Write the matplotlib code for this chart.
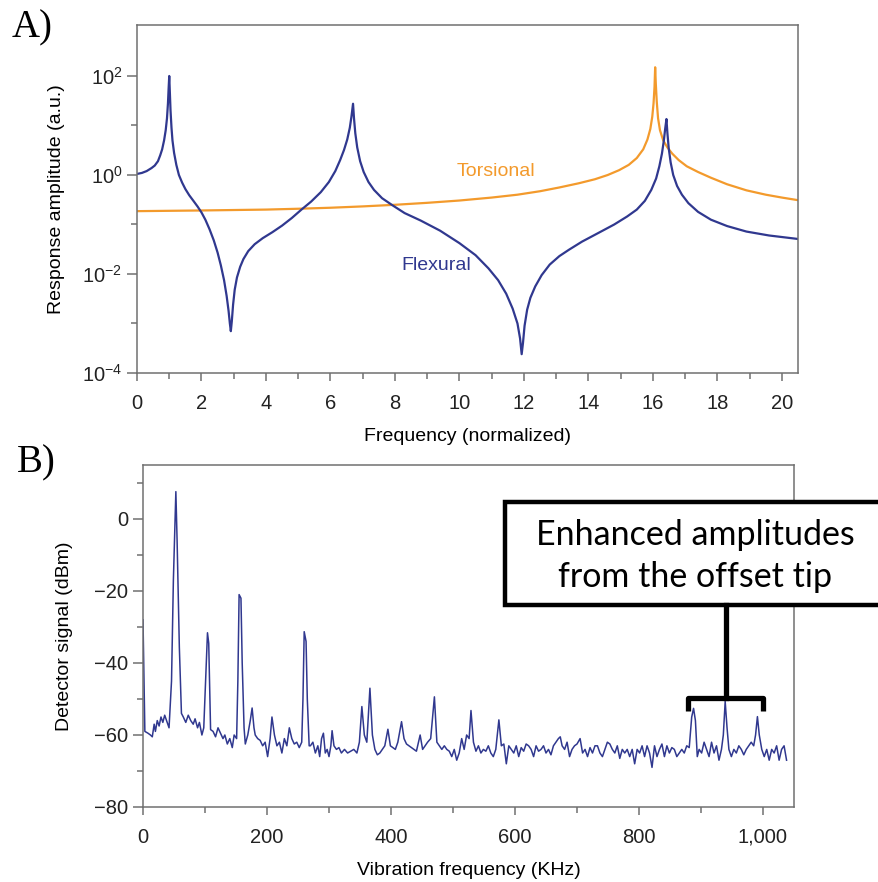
import numpy as np
import matplotlib
matplotlib.use("Agg")
import matplotlib.pyplot as plt
from matplotlib.patches import Rectangle
from matplotlib.lines import Line2D
from matplotlib.ticker import FixedLocator, NullFormatter, FuncFormatter

FAM = 'Liberation Sans'
plt.rcParams['font.family'] = [FAM, 'DejaVu Sans']
plt.rcParams['mathtext.fontset'] = 'custom'
plt.rcParams['mathtext.rm'] = FAM
plt.rcParams['mathtext.it'] = FAM
TICK_FS = 14.5
LAB_FS = 14

BLUE = '#30388f'
ORANGE = '#f39a2c'
GREY = '#707070'

# ---- panel A: response amplitude vs normalized frequency ----
flex_f = [0.0, 0.15, 0.3, 0.45, 0.55, 0.65, 0.72, 0.78, 0.84, 0.89, 0.93, 0.96,
          0.98, 1.0, 1.02, 1.04, 1.07, 1.1, 1.15, 1.22, 1.3, 1.4, 1.5, 1.62,
          1.75, 1.88, 2.0, 2.12, 2.25, 2.38, 2.5, 2.6, 2.7, 2.78, 2.84, 2.88,
          2.91, 2.94, 2.98, 3.03, 3.1, 3.2, 3.3, 3.45, 3.65, 3.9, 4.2, 4.5,
          4.8, 5.1, 5.4, 5.7, 5.95, 6.15, 6.3, 6.42, 6.52, 6.6, 6.65, 6.7,
          6.73, 6.77, 6.83, 6.92, 7.03, 7.18, 7.35, 7.6, 7.9, 8.3, 8.8, 9.4,
          10.0, 10.5, 10.9, 11.2, 11.45, 11.65, 11.8, 11.88, 11.93, 11.97,
          12.02, 12.1, 12.2, 12.35, 12.55, 12.8, 13.1, 13.4, 13.8, 14.3, 14.8,
          15.2, 15.5, 15.75, 15.95, 16.1, 16.2, 16.28, 16.34, 16.38, 16.42,
          16.45, 16.49, 16.55, 16.63, 16.75, 16.9, 17.1, 17.4, 17.8, 18.3,
          18.9, 19.6, 20.5]
flex_a = [1.05, 1.1, 1.2, 1.38, 1.55, 1.9, 2.5, 3.3, 5.0, 8.0, 14, 28,
          55, 100, 45, 20, 9, 5, 2.8, 1.6, 1.0, 0.7, 0.52, 0.39,
          0.30, 0.23, 0.175, 0.125, 0.08, 0.048, 0.027, 0.015, 0.0075, 0.0036,
          0.0018, 0.001, 0.0007, 0.0011, 0.0024, 0.0048, 0.0085, 0.014, 0.02,
          0.029, 0.04, 0.053, 0.07, 0.095, 0.135, 0.2, 0.29, 0.45, 0.72, 1.2,
          2.0, 3.2, 5.2, 9, 15, 27.5, 14, 7, 3.6, 1.9, 1.15, 0.72, 0.5, 0.34,
          0.25, 0.17, 0.12, 0.075, 0.042, 0.024, 0.013, 0.0075, 0.004, 0.002,
          0.001, 0.0005, 0.00024, 0.0004, 0.0009, 0.0019, 0.0033, 0.0056,
          0.0095, 0.0155, 0.023, 0.031, 0.045, 0.067, 0.1, 0.145, 0.2, 0.3,
          0.5, 0.85, 1.5, 2.7, 5, 8.5, 13.5, 7, 3.5, 1.8, 1.0, 0.6, 0.4, 0.27,
          0.18, 0.125, 0.093, 0.072, 0.06, 0.051]

tors_f = [0, 1, 2, 3, 4, 5, 6, 7, 8, 9, 10, 11, 11.8, 12.5, 13.1, 13.7, 14.2,
          14.6, 14.95, 15.25, 15.5, 15.7, 15.83, 15.92, 15.98, 16.02, 16.05,
          16.07, 16.09, 16.12, 16.16, 16.22, 16.32, 16.45, 16.6, 16.8, 17.05,
          17.4, 17.8, 18.3, 18.9, 19.5, 20.0, 20.5]
tors_a = [0.186, 0.189, 0.192, 0.196, 0.2, 0.208, 0.218, 0.232, 0.25, 0.274,
          0.305, 0.35, 0.4, 0.47, 0.56, 0.68, 0.82, 1.0, 1.25, 1.6, 2.2, 3.3,
          5.2, 8.5, 15, 28, 60, 150, 70, 30, 14, 8, 5, 3.6, 2.7, 2.0, 1.5,
          1.15, 0.88, 0.65, 0.49, 0.4, 0.35, 0.31]

# ---- panel B: detector signal spectrum ----
spec_f = [0, 3, 8, 12, 15, 18, 20, 23, 26, 29, 32, 35, 38, 40, 42, 46, 49, 53,
          55, 58.6, 62, 65, 69, 73, 77, 81, 84, 88, 91, 95, 98, 101, 104, 106,
          109, 113, 117, 121, 125, 129, 132, 136, 140, 144, 147, 151, 153, 155,
          158, 160, 163, 165, 169, 173, 176, 179, 181, 185, 189, 193, 197, 201,
          205, 208, 212, 216, 220, 224, 228, 232, 236, 240, 244, 248, 252, 256,
          258, 260, 263, 265, 268, 270, 274, 278, 282, 285, 288, 291, 294, 297,
          300, 303, 305, 308, 312, 316, 320, 325, 330, 335, 340, 345, 349, 353,
          357, 361, 366, 370, 374, 378, 382, 386, 390, 395, 399, 403, 407, 411,
          417, 421, 425, 429, 433, 437, 441, 447, 451, 455, 459, 464, 470, 474,
          478, 482, 486, 490, 494, 498, 502, 506, 510, 514, 518, 522, 526, 529,
          533, 537, 541, 545, 549, 553, 557, 561, 565, 569, 574, 578, 582, 586,
          590, 594, 598, 602, 606, 610, 614, 618, 622, 626, 630, 634, 638, 642,
          646, 650, 654, 658, 662, 666, 670, 673, 676, 680, 684, 688, 692, 696,
          700, 705, 709, 713, 717, 721, 725, 729, 733, 737, 741, 745, 749, 753,
          757, 761, 765, 769, 773, 777, 781, 785, 789, 793, 797, 801, 805, 809,
          813, 817, 821, 825, 829, 833, 837, 841, 845, 849, 853, 857, 861, 865,
          869, 873, 877, 881, 885, 888, 891, 894, 897, 901, 905, 909, 913, 917,
          921, 925, 929, 933, 936, 939, 942, 945, 949, 953, 957, 961, 965, 969,
          973, 977, 981, 985, 988, 991, 994, 998, 1002, 1006, 1010, 1014, 1018,
          1022, 1026, 1030, 1034, 1038]
spec_db = [-28, -59, -59.5, -60, -60.5, -57, -59, -56, -57.5, -55, -56.5, -54.5,
           -56, -57, -58, -45, -17, 7.6, -6, -35.5, -54, -55, -56.5, -54.5,
           -56, -57, -55.5, -58, -56.5, -60, -58, -45, -31.6, -34.5, -58.5,
           -59, -60.5, -58, -59.5, -61, -60, -62.5, -61, -63.5, -60, -61, -45,
           -21, -22, -40, -58, -62.5, -60, -56, -52.5, -58, -60, -61, -61.5,
           -63, -62, -66, -61, -55, -60, -63, -62, -65, -61, -63, -58, -61,
           -62.5, -62, -63.5, -62, -50, -31.3, -34, -50, -63, -63, -62, -65,
           -63, -66, -61, -59.5, -65, -64, -66, -63, -58.8, -63, -64, -63.5,
           -65, -64, -65, -64.5, -64, -65, -62, -52.1, -60, -62, -47, -60, -64,
           -65.5, -65, -64, -63, -58.4, -63, -63.5, -64, -62, -56.3, -61,
           -62.5, -63, -63.5, -64, -64.5, -60, -64, -63, -62, -61, -49.4, -62,
           -63, -64, -63, -64, -64.5, -66, -64, -67, -65, -61, -64, -60, -61,
           -53.2, -62, -64.5, -63, -65, -64, -64.5, -63, -65, -66, -64, -55.8,
           -63, -62.5, -68, -63, -64, -65, -63, -66, -63.5, -64.5, -62.5, -63,
           -64, -66, -63, -64.5, -64, -63, -65, -64, -65.5, -63, -62, -61,
           -60.5, -63, -64, -62, -66, -64, -63, -62.5, -61, -65, -64, -66,
           -63.5, -65, -63, -63, -65, -66, -64, -62, -62.5, -64, -65, -63,
           -66.5, -64, -65, -64, -66, -64, -68, -64, -65, -63, -66, -63, -65,
           -69, -63, -66, -64, -62.5, -66, -63, -65, -63.5, -64, -66, -65, -64,
           -65, -63, -63.5, -55, -52.6, -56, -66, -64, -65, -62, -64, -66, -62,
           -65, -63, -67, -64, -60, -50.7, -58, -64, -66, -64, -65, -63, -64,
           -65.5, -64, -63, -62, -63, -60, -54.9, -60, -64, -66, -64, -67, -64,
           -65, -63, -67, -64, -63, -67]

b_ticks = [0, 200, 400, 600, 800, 1000]


def style_axes(ax):
    for s in ax.spines.values():
        s.set_color(GREY)
        s.set_linewidth(1.1)
    ax.tick_params(axis='x', which='major', direction='out', length=6,
                   width=1.1, color=GREY, labelsize=TICK_FS, pad=9,
                   labelcolor='#222222')
    ax.tick_params(axis='y', which='major', direction='out', length=7.5,
                   width=1.1, color=GREY, labelsize=TICK_FS, pad=3,
                   labelcolor='#222222')
    ax.tick_params(which='minor', direction='out', length=4.5, width=1.1,
                   color=GREY)


fig = plt.figure(figsize=(8.79, 8.82), dpi=100)
W, H = 879.0, 882.0

# panel A
axA = fig.add_axes([137 / W, 1 - 373 / H, (798 - 137) / W, (373 - 25) / H])
axA.plot(tors_f, tors_a, color=ORANGE, lw=1.6)
axA.plot(flex_f, flex_a, color=BLUE, lw=1.6)
axA.set_yscale('log')
axA.set_xlim(0, 20.5)
axA.set_ylim(1e-4, 10 ** 3.03)
axA.xaxis.set_major_locator(FixedLocator(np.arange(0, 21, 2)))
axA.xaxis.set_minor_locator(FixedLocator(np.arange(1, 21, 2)))
axA.yaxis.set_major_locator(FixedLocator([1e-4, 1e-2, 1e0, 1e2]))
axA.yaxis.set_minor_locator(FixedLocator([1e-3, 1e-1, 1e1]))
axA.yaxis.set_minor_formatter(NullFormatter())
axA.yaxis.set_major_formatter(FuncFormatter(
    lambda v, p: r'$10^{%d}$' % int(round(np.log10(v)))))
style_axes(axA)
axA.set_xlabel('Frequency (normalized)', fontsize=LAB_FS, labelpad=11)
axA.set_ylabel('Response amplitude (a.u.)', fontsize=LAB_FS, labelpad=12)
axA.text(11.14, 1.2, 'Torsional', color=ORANGE, fontsize=LAB_FS,
         ha='center', va='center')
axA.text(9.28, 0.015, 'Flexural', color=BLUE, fontsize=LAB_FS,
         ha='center', va='center')

# panel B
axB = fig.add_axes([143 / W, 1 - 807 / H, (794 - 143) / W, (807 - 465) / H])
axB.plot(spec_f, spec_db, color=BLUE, lw=1.1)
axB.set_xlim(0, 1050)
axB.set_ylim(-80, 15)
axB.xaxis.set_major_locator(FixedLocator(b_ticks))
axB.xaxis.set_minor_locator(FixedLocator([100, 300, 500, 700, 900]))
axB.xaxis.set_major_formatter(FuncFormatter(lambda v, p: '{:,.0f}'.format(v)))
axB.yaxis.set_major_locator(FixedLocator([-80, -60, -40, -20, 0]))
axB.yaxis.set_minor_locator(FixedLocator([-70, -50, -30, -10, 10]))
style_axes(axB)
axB.set_xlabel('Vibration frequency (KHz)', fontsize=LAB_FS, labelpad=11)
axB.set_ylabel('Detector signal (dBm)', fontsize=LAB_FS, labelpad=15)

# panel letters
fig.text(12 / W, 1 - 37 / H, 'A)', fontsize=28, family='Liberation Serif',
         va='baseline', ha='left')
fig.text(17 / W, 1 - 472 / H, 'B)', fontsize=28, family='Liberation Serif',
         va='baseline', ha='left')

# call-out box with bracket
box = Rectangle((505 / W, 1 - 605 / H), 420 / W, (605 - 502) / H,
                transform=fig.transFigure, facecolor='white',
                edgecolor='black', lw=3.2, zorder=5, clip_on=False)
fig.add_artist(box)
fig.text(695 / W, 1 - 556 / H, 'Enhanced amplitudes\nfrom the offset tip',
         family=['Lato', 'DejaVu Sans'], fontsize=24.5, ha='center',
         va='center', linespacing=1.35, zorder=6)
stem = Line2D([726 / W, 726 / W], [1 - 605 / H, 1 - 698 / H],
              transform=fig.transFigure, color='black', lw=3.8, zorder=6)
fig.add_artist(stem)
brace = Line2D([688 / W, 688 / W, 763 / W, 763 / W],
               [1 - 711 / H, 1 - 698 / H, 1 - 698 / H, 1 - 711 / H],
               transform=fig.transFigure, color='black', lw=3.8,
               solid_joinstyle='round', solid_capstyle='butt', zorder=6)
fig.add_artist(brace)

fig.savefig('out.png', dpi=100)
